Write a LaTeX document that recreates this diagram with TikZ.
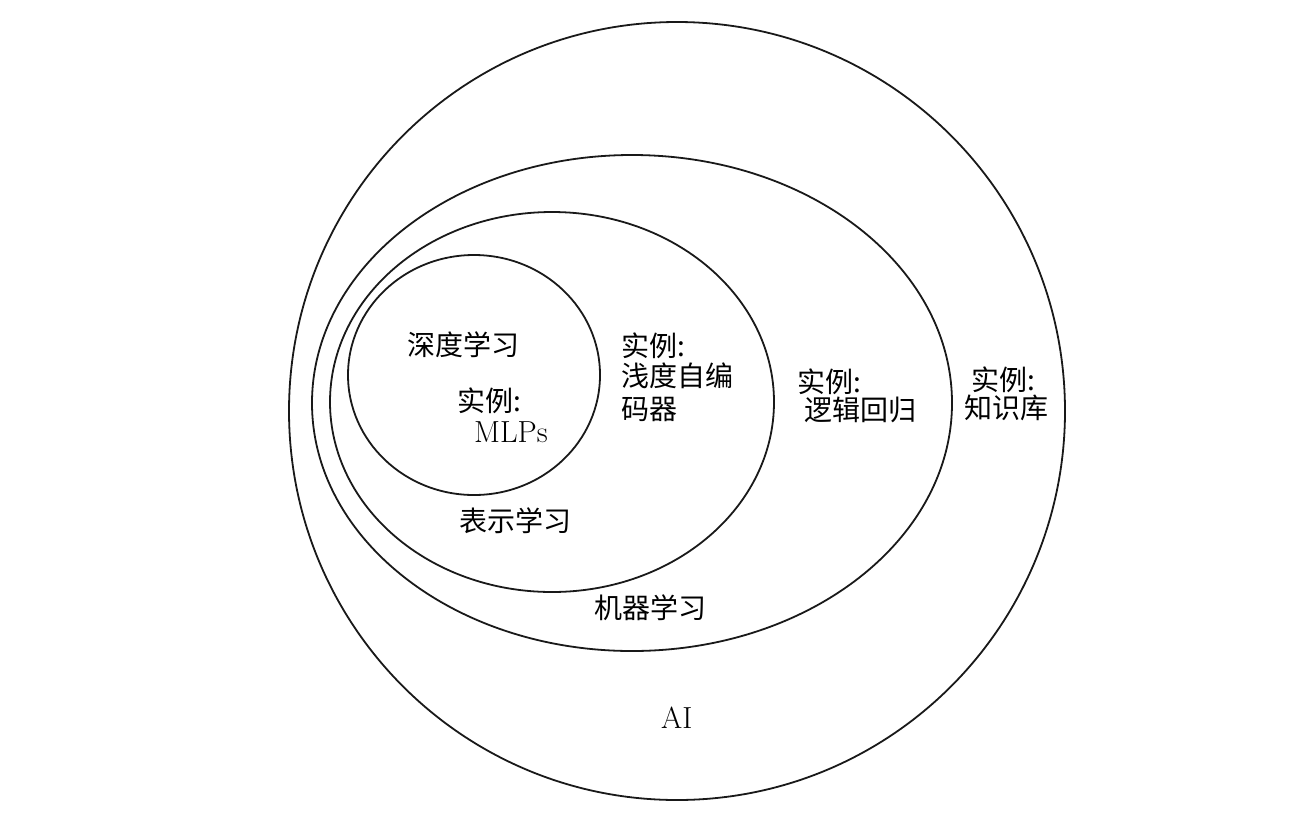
\documentclass[tikz,border=0pt]{standalone}
\usepackage{fontspec}
\newfontfamily\cjk{Noto Sans CJK SC}
\begin{document}
\begin{tikzpicture}[x=1pt,y=-1pt,
  ring/.style={line width=1.8pt, black!90},
  zh/.style={inner sep=0pt, anchor=west, font=\cjk\fontsize{28}{32}\selectfont},
  en/.style={inner sep=0pt, anchor=base west, font=\fontsize{30.5}{34}\selectfont}]
\useasboundingbox (0,0) rectangle (1290,820);
% nested fields: AI > machine learning > representation learning > deep learning
\draw[ring] (677,411) ellipse [x radius=388, y radius=389];
\draw[ring] (632,403) ellipse [x radius=320, y radius=248];
\draw[ring] (552,402) ellipse [x radius=222, y radius=190];
\draw[ring] (474,375) ellipse [x radius=126, y radius=120];
% deep learning
\node[zh] (dl)   at (407,345) {深度学习};
\node[zh] (dlex) at (457,401) {实例:};
\node[en] (mlp)  at (474,442) {MLPs};
% representation learning
\node[zh] (rl)   at (459,521) {表示学习};
\node[zh] (rlex) at (621,346) {实例:};
\node[zh] (rl1)  at (621,376) {浅度自编};
\node[zh] (rl2)  at (621,409) {码器};
% machine learning
\node[zh] (ml)   at (594,608) {机器学习};
\node[zh] (mlex) at (797,382) {实例:};
\node[zh] (ml1)  at (804,410) {逻辑回归};
% AI
\node[en] (ai)   at (661,728) {AI};
\node[zh] (aiex) at (971,380) {实例:};
\node[zh] (ai1)  at (964,408) {知识库};
\end{tikzpicture}
\end{document}
